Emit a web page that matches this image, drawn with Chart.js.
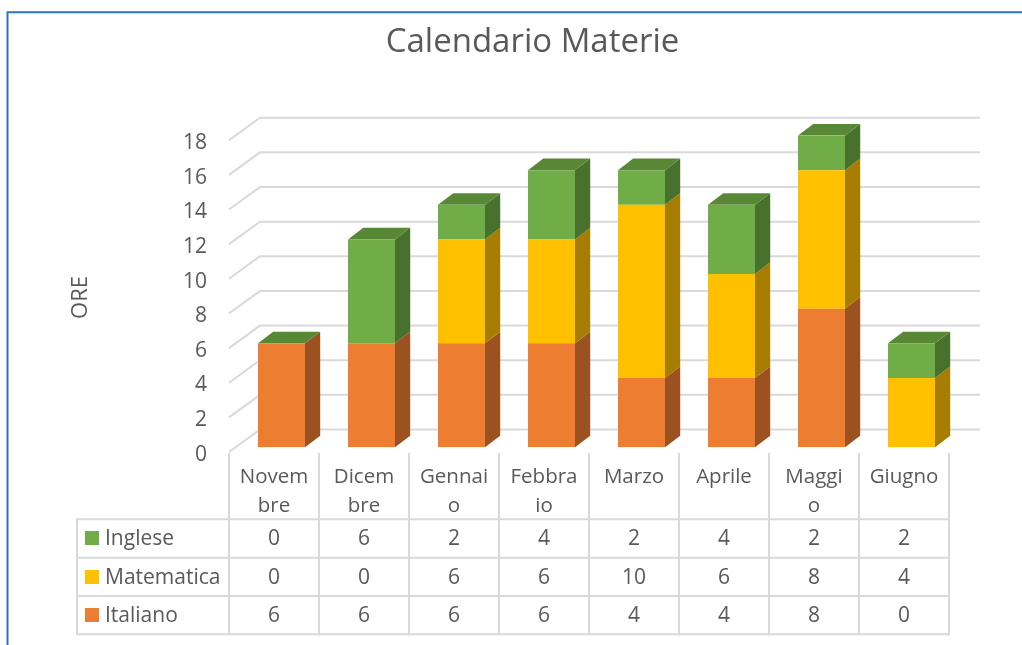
<!DOCTYPE html>
<html>
<head>
<meta charset="utf-8">
<script src="https://cdn.jsdelivr.net/npm/chart.js@4"></script>
<style>html,body{margin:0;padding:0;background:#fff;overflow:hidden}canvas{display:block}</style>
</head>
<body>
<canvas id="c" width="1022" height="645"></canvas>
<script>
const categories = [["Novem","bre"],["Dicem","bre"],["Gennai","o"],["Febbra","io"],["Marzo"],["Aprile"],["Maggi","o"],["Giugno"]];
const italiano = [6,6,6,6,4,4,8,0];
const matematica = [0,0,6,6,10,6,8,4];
const inglese = [0,6,2,4,2,4,2,2];
const yTicks = [0,2,4,6,8,10,12,14,16,18];
const titleText = "Calendario Materie";
const yTitleText = "ORE";

const FONT = '"Open Sans", sans-serif';
const TEXT = '#595959', GRID = '#D9D9D9';
const DX = 15.2, DY = 11.6;

const walls3d = {
  id: 'walls3d',
  beforeDraw(chart) {
    const c = chart.ctx, y = chart.scales.y;
    c.save();
    c.fillStyle = '#fff';
    c.fillRect(0,0,chart.width,chart.height);
    // frame
    c.strokeStyle = '#2E75B6'; c.lineWidth = 2;
    c.beginPath(); c.moveTo(7.5,645); c.lineTo(7.5,12.3); c.lineTo(1022,12.3); c.stroke();
    // walls
    c.strokeStyle = GRID; c.lineWidth = 2;
    yTicks.forEach(v => {
      const p = y.getPixelForValue(v);
      c.beginPath();
      c.moveTo(229, p + 4.7);
      c.lineTo(260, p - 17.8);
      c.lineTo(980, p - 17.8);
      c.stroke();
    });
    // axis title
    c.fillStyle = TEXT; c.font = '22px ' + FONT;
    c.textAlign = 'center'; c.textBaseline = 'middle';
    c.translate(81, 297.5); c.rotate(-Math.PI/2);
    c.fillText(yTitleText, 0, 0);
    c.restore();
  },
  beforeDatasetsDraw(chart) {
    const c = chart.ctx;
    c.save();
    chart.data.datasets.forEach((ds, di) => {
      const meta = chart.getDatasetMeta(di);
      meta.data.forEach(b => {
        const r = b.x + b.width/2, top = b.y, bot = b.base;
        if (bot - top > 0.01) {
          c.fillStyle = ds.sideColor;
          c.beginPath();
          c.moveTo(r, top); c.lineTo(r+DX, top-DY); c.lineTo(r+DX, bot-DY); c.lineTo(r, bot);
          c.closePath(); c.fill();
        }
        if (di === chart.data.datasets.length - 1) {
          const l = b.x - b.width/2;
          c.fillStyle = ds.topColor;
          c.beginPath();
          c.moveTo(l, top); c.lineTo(l+DX, top-DY); c.lineTo(r+DX, top-DY); c.lineTo(r, top);
          c.closePath(); c.fill();
        }
      });
    });
    c.restore();
  },
  afterDraw(chart) {
    const c = chart.ctx, x = chart.scales.x;
    const rows = [539, 578, 616];
    const lines = [519.3, 557.7, 596, 634.3];
    const colX = i => x.getPixelForValue(0) - 52.5 + 90*i;
    c.save();
    c.strokeStyle = GRID; c.lineWidth = 2;
    lines.forEach(l => { c.beginPath(); c.moveTo(77,l); c.lineTo(colX(8),l); c.stroke(); });
    c.beginPath(); c.moveTo(77,518.3); c.lineTo(77,635.3); c.stroke();
    for (let i=0;i<=8;i++){ c.beginPath(); c.moveTo(colX(i),453); c.lineTo(colX(i),635.3); c.stroke(); }
    const ds = chart.data.datasets;
    const order = [ds[2], ds[1], ds[0]];
    c.font = '21px ' + FONT; c.textBaseline = 'middle';
    order.forEach((d, r) => {
      c.fillStyle = d.backgroundColor;
      c.fillRect(85, rows[r]-8, 14, 14);
      c.fillStyle = TEXT; c.textAlign = 'left';
      c.fillText(d.label, 105, rows[r]);
      c.textAlign = 'center';
      d.data.forEach((v,i) => c.fillText(String(v), colX(i)+45, rows[r]));
    });
    c.restore();
  }
};

new Chart(document.getElementById('c'), {
  type: 'bar',
  data: {
    labels: categories,
    datasets: [
      {label:'Italiano', data:italiano, backgroundColor:'#ED7D31', sideColor:'#9C5220'},
      {label:'Matematica', data:matematica, backgroundColor:'#FFC000', sideColor:'#A67D00'},
      {label:'Inglese', data:inglese, backgroundColor:'#70AD47', sideColor:'#49712E', topColor:'#588736'}
    ]
  },
  options: {
    responsive:false, animation:false,
    layout:{padding:{left:108.5,right:65.5,top:0,bottom:0}},
    datasets:{bar:{barPercentage:47/90,categoryPercentage:1,borderWidth:0}},
    plugins:{
      legend:{display:false}, tooltip:{enabled:false},
      title:{display:true,text:titleText,color:TEXT,font:{family:FONT,size:33,weight:'normal',lineHeight:1.2},padding:{top:22.4,bottom:73.5}}
    },
    scales:{
      x:{stacked:true,border:{display:false},grid:{display:false,drawTicks:false},
        afterFit(s){s.height=197.7;},
        ticks:{color:TEXT,font:{family:FONT,size:20.5,lineHeight:1.415},padding:15,labelOffset:-7.5,autoSkip:false,maxRotation:0,minRotation:0}},
      y:{stacked:true,min:0,max:18,border:{display:false},grid:{display:false,drawTicks:false},
        afterFit(s){s.width=128;},
        afterBuildTicks(s){s.ticks=yTicks.map(v=>({value:v}));},
        ticks:{color:TEXT,font:{family:FONT,size:21},padding:29.5,labelOffset:7.5}}
    }
  },
  plugins:[walls3d]
});
</script>
</body>
</html>
